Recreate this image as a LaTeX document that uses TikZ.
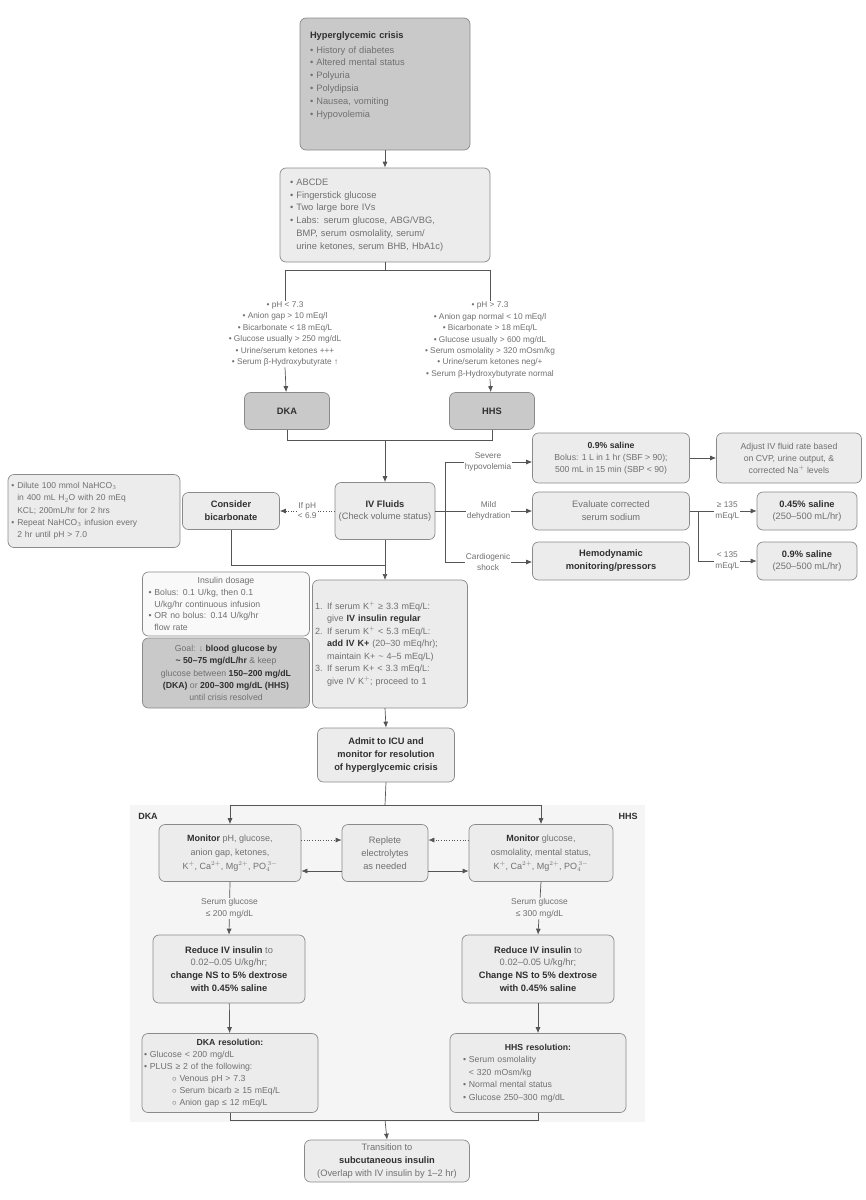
\documentclass[tikz,border=0pt]{standalone}
\usepackage{fontspec}
\setmainfont{Liberation Sans}
\usetikzlibrary{arrows.meta}
\definecolor{tx}{HTML}{707070}
\definecolor{tb}{HTML}{303030}
\definecolor{bd}{HTML}{8a8a8a}
\definecolor{lt}{HTML}{ececec}
\definecolor{dk}{HTML}{c9c9c9}
\definecolor{ln}{HTML}{555555}
\newcommand{\B}[1]{\textbf{\color{tb}#1}}
\newcommand{\bu}{\textbullet\ }
\newcommand{\apx}{\textasciitilde}
\begin{document}
\begin{tikzpicture}[x=1pt,y=-1pt,
  every node/.style={font=\fontsize{9.3}{12.8}\selectfont, text=tx},
  box/.style={draw=bd, line width=0.7pt, rounded corners=6pt, fill=lt, align=center, inner sep=1pt},
  dbox/.style={box, fill=dk},
  arr/.style={draw=ln, line width=0.7pt, -{Latex[length=6pt,width=5pt]}},
  ln/.style={draw=ln, line width=0.7pt},
  dot/.style={arr, dotted},
  lbl/.style={align=center, inner sep=1pt, fill=white}]
\useasboundingbox (0,0) rectangle (866,1200);
% background panel
\fill[gray!8] (130,805) rectangle (645,1122);
\node[text=tb,font=\fontsize{9}{11}\selectfont\bfseries] (ldka) at (148,816) {DKA};
\node[text=tb,font=\fontsize{9}{11}\selectfont\bfseries] (lhhs) at (628,816) {HHS};

\node[dbox, minimum width=170, minimum height=132] (top) at (385,84) {};
\node[align=left, text width=150, anchor=north] (toptxt) at (385,28)
 {\B{Hyperglycemic crisis}\\[2pt]
  \bu History of diabetes\\ \bu Altered mental status\\ \bu Polyuria\\ \bu Polydipsia\\ \bu Nausea, vomiting\\ \bu Hypovolemia};
\node[box, minimum width=210, minimum height=94, align=left, text width=190] (init) at (385,215)
 {\bu ABCDE\\ \bu Fingerstick glucose\\ \bu Two large bore IVs\\ \bu Labs: serum glucose, ABG/VBG,\\ \hphantom{\bu}BMP, serum osmolality, serum/\\ \hphantom{\bu}urine ketones, serum BHB, HbA1c)};
\draw[arr] (top) -- (init);

\node[lbl, font=\fontsize{8.3}{11.4}\selectfont] (cd) at (285,334)
 {\bu pH < 7.3\\ \bu Anion gap > 10 mEq/l\\ \bu Bicarbonate < 18 mEq/L\\ \bu Glucose usually > 250 mg/dL\\ \bu Urine/serum ketones +++\\ \bu Serum β-Hydroxybutyrate ↑};
\node[lbl, font=\fontsize{8.3}{11.4}\selectfont] (ch) at (490,340)
 {\bu pH > 7.3\\ \bu Anion gap normal < 10 mEq/l\\ \bu Bicarbonate > 18 mEq/L\\ \bu Glucose usually > 600 mg/dL\\ \bu Serum osmolality > 320 mOsm/kg\\ \bu Urine/serum ketones neg/+\\ \bu Serum β-Hydroxybutyrate normal};
\coordinate (sp) at (385,270);
\draw[ln] (init.south) -- (sp);
\draw[ln] (285,270) -- (490,270);
\draw[ln] (285,270) -- (cd.north);
\draw[ln] (490,270) -- (ch.north);
\node[dbox, minimum width=85, minimum height=37] (dka) at (287,411) {\B{DKA}};
\node[dbox, minimum width=85, minimum height=37] (hhs) at (492,411) {\B{HHS}};
\draw[arr] (cd.south) -- (dka);
\draw[arr] (ch.south) -- (hhs);

\node[box, minimum width=100, minimum height=57] (ivf) at (385,511) {\B{IV Fluids}\\(Check volume status)};
\draw[ln] (dka.south) -- (287,440) -- (492,440) -- (hhs.south);
\draw[arr] (385,440) -- (ivf.north);

\node[box, minimum width=97, minimum height=37] (bic) at (231,511) {\B{Consider}\\\B{bicarbonate}};
\node[box, minimum width=172, minimum height=73, align=left, text width=165, font=\fontsize{8.5}{12.3}\selectfont] (bicn) at (94,511)
 {\bu Dilute 100 mmol NaHCO$_3$\\ \hphantom{\bu}in 400 mL H$_2$O with 20 mEq\\ \hphantom{\bu}KCL; 200mL/hr for 2 hrs\\ \bu Repeat NaHCO$_3$ infusion every\\ \hphantom{\bu}2 hr until pH > 7.0};
\draw[dot] (ivf.west) -- node[lbl, font=\fontsize{8.3}{10}\selectfont]{If pH\\< 6.9} (bic.east);

% right branch
\coordinate (br) at (445,511);
\draw[ln] (ivf.east) -- (br);
\draw[ln] (452,462) -- (445,462) -- (445,562) -- (452,562);
\node[box, minimum width=157, minimum height=50, font=\fontsize{8.7}{12}\selectfont] (s09) at (611,458) {\B{0.9\% saline}\\Bolus: 1 L in 1 hr (SBF > 90);\\500 mL in 15 min (SBP < 90)};
\node[box, minimum width=157, minimum height=38] (evl) at (611,511) {Evaluate corrected\\serum sodium};
\node[box, minimum width=157, minimum height=38] (hem) at (611,561) {\B{Hemodynamic}\\\B{monitoring/pressors}};
\node[box, minimum width=145, minimum height=50, font=\fontsize{8.7}{12}\selectfont] (adj) at (789,458) {Adjust IV fluid rate based\\on CVP, urine output, \&\\corrected Na$^+$ levels};
\node[box, minimum width=100, minimum height=38] (s045) at (807,511) {\B{0.45\% saline}\\(250--500 mL/hr)};
\node[box, minimum width=100, minimum height=38] (s09b) at (807,561) {\B{0.9\% saline}\\(250--500 mL/hr)};
\draw[arr] (452,462) -- node[lbl, font=\fontsize{8.3}{10.5}\selectfont, pos=0.45]{Severe\\hypovolemia} (s09.west|-452,462);
\draw[arr] (445,511) -- node[lbl, font=\fontsize{8.3}{10.5}\selectfont, pos=0.5]{Mild\\dehydration} (evl.west);
\draw[arr] (452,562) -- node[lbl, font=\fontsize{8.3}{10.5}\selectfont, pos=0.45]{Cardiogenic\\shock} (hem.west|-452,562);
\draw[arr] (s09.east) -- (adj.west);
\coordinate (b2) at (698,511);
\draw[ln] (evl.east) -- (b2);
\draw[ln] (698,511) -- (698,561);
\draw[arr] (698,511) -- node[lbl, font=\fontsize{8.3}{10.5}\selectfont]{≥ 135\\mEq/L} (s045.west);
\draw[arr] (698,561) -- node[lbl, font=\fontsize{8.3}{10.5}\selectfont]{< 135\\mEq/L} (s09b.west);

% insulin
\node[box, minimum width=167, minimum height=64, fill=gray!5, align=left, text width=155, font=\fontsize{8.7}{11.7}\selectfont] (ins) at (226,604)
 {\hfil Insulin dosage\hfil\\ \bu Bolus: 0.1 U/kg, then 0.1\\ \hphantom{\bu}U/kg/hr continuous infusion\\ \bu OR no bolus: 0.14 U/kg/hr\\ \hphantom{\bu}flow rate};
\node[dbox, minimum width=167, minimum height=70, font=\fontsize{8.7}{12.2}\selectfont] (goal) at (226,673)
 {Goal: ↓ \B{blood glucose by}\\\B{\apx\ 50--75 mg/dL/hr} \& keep\\glucose between \B{150--200 mg/dL}\\\B{(DKA)} or \B{200--300 mg/dL (HHS)}\\until crisis resolved};
\node[box, minimum width=155, minimum height=128, align=left, text width=150, font=\fontsize{9}{12.5}\selectfont] (kbox) at (390,644)
 {1. If serum K$^+$ ≥ 3.3 mEq/L:\\ \hphantom{1. }give \B{IV insulin regular}\\ 2. If serum K$^+$ < 5.3 mEq/L:\\ \hphantom{2. }\B{add IV K+} (20--30 mEq/hr);\\ \hphantom{2. }maintain K+ \apx\ 4--5 mEq/L)\\ 3. If serum K+ < 3.3 mEq/L:\\ \hphantom{3. }give IV K$^+$; proceed to 1};
\draw[ln] (bic.south) -- (231,565) -- (385,565);
\draw[arr] (ivf.south) -- (385,580);

\node[box, minimum width=137, minimum height=54] (adm) at (386,755) {\B{Admit to ICU and}\\\B{monitor for resolution}\\\B{of hyperglycemic crisis}};
\draw[arr] (385,708) -- (adm.north);

\node[box, minimum width=142, minimum height=57, font=\fontsize{9}{14}\selectfont] (md) at (230,853) {\B{Monitor} pH, glucose,\\anion gap, ketones,\\K$^+$, Ca$^{2+}$, Mg$^{2+}$, PO$_4^{\,3-}$};
\node[box, minimum width=86, minimum height=57] (rep) at (385,853) {Replete\\electrolytes\\as needed};
\node[box, minimum width=144, minimum height=57, font=\fontsize{9}{14}\selectfont] (mh) at (541,853) {\B{Monitor} glucose,\\osmolality, mental status,\\K$^+$, Ca$^{2+}$, Mg$^{2+}$, PO$_4^{\,3-}$};
\draw[ln] (adm.south) -- (385,805);
\draw[ln] (230,805) -- (541,805);
\draw[arr] (230,805) -- (md.north);
\draw[arr] (541,805) -- (mh.north);
\draw[dot] (md.east|-300,840) -- (rep.west|-300,840);
\draw[dot] (mh.west|-300,840) -- (rep.east|-300,840);
\draw[arr] (rep.west|-300,871) -- (md.east|-300,871);
\draw[arr] (rep.east|-300,871) -- (mh.west|-300,871);

\node[box, minimum width=152, minimum height=68] (rd) at (229,969) {\B{Reduce IV insulin} to\\0.02--0.05 U/kg/hr;\\\B{change NS to 5\% dextrose}\\\B{with 0.45\% saline}};
\node[box, minimum width=152, minimum height=68] (rh) at (538,969) {\B{Reduce IV insulin} to\\0.02--0.05 U/kg/hr;\\\B{Change NS to 5\% dextrose}\\\B{with 0.45\% saline}};
\draw[arr] (md.south) -- node[fill=gray!8, inner sep=1pt, align=center, font=\fontsize{8.5}{11.5}\selectfont]{Serum glucose\\≤ 200 mg/dL} (rd.north);
\draw[arr] (mh.south) -- node[fill=gray!8, inner sep=1pt, align=center, font=\fontsize{8.5}{11.5}\selectfont]{Serum glucose\\≤ 300 mg/dL} (rh.north);

\node[box, minimum width=176, minimum height=79, align=left, text width=172, font=\fontsize{8.7}{11.9}\selectfont] (resd) at (230,1073)
 {\hfil\B{DKA resolution:}\hfil\\ \bu Glucose < 200 mg/dL\\ \bu PLUS ≥ 2 of the following:\\ \hspace{28pt}$\circ$\ Venous pH > 7.3\\ \hspace{28pt}$\circ$\ Serum bicarb ≥ 15 mEq/L\\ \hspace{28pt}$\circ$\ Anion gap ≤ 12 mEq/L};
\node[box, minimum width=176, minimum height=79, align=left, text width=150, font=\fontsize{8.7}{12.5}\selectfont] (resh) at (538,1073)
 {\hfil\B{HHS resolution:}\hfil\\ \bu Serum osmolality\\ \hphantom{\bu}< 320 mOsm/kg\\ \bu Normal mental status\\ \bu Glucose 250--300 mg/dL};
\draw[arr] (rd) -- (resd);
\draw[arr] (rh) -- (resh);

\node[box, minimum width=165, minimum height=42] (tr) at (387,1161) {Transition to\\\B{subcutaneous insulin}\\(Overlap with IV insulin by 1--2 hr)};
\draw[ln] (resd.south) -- (230,1120) -- (538,1120) -- (resh.south);
\draw[arr] (385,1120) -- (tr.north);
\end{tikzpicture}
\end{document}
